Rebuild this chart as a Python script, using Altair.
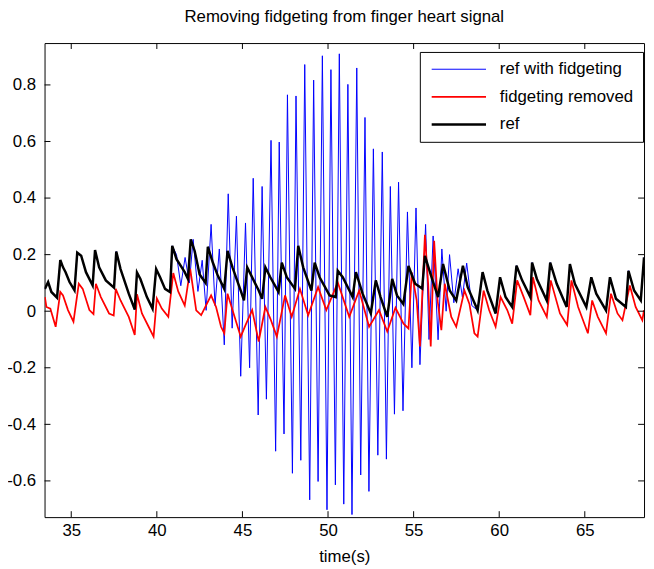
import altair as alt
import pandas as pd

TITLE = "Removing fidgeting from finger heart signal"
X_TITLE = "time(s)"
SERIES = ["ref with fidgeting", "fidgeting removed", "ref"]
COLORS = ["#0000ff", "#ff0000", "#000000"]
WIDTHS = [1, 2.5, 2.5]
X_TICKS = [35, 40, 45, 50, 55, 60, 65]
Y_TICKS = [-0.6, -0.4, -0.2, 0, 0.2, 0.4, 0.6, 0.8]
X_DOMAIN = [33.44, 68.46]
Y_DOMAIN = [-0.728, 0.948]

# black: ref
ref_t = [33.46, 33.65, 33.84, 34.17, 34.36, 34.52, 34.67, 34.90, 35.19, 35.35, 35.58, 35.86,
         36.25, 36.39, 36.63, 37.02, 37.50, 37.63, 37.88, 38.36, 38.71, 38.84, 39.04, 39.42,
         39.75, 39.96, 40.19, 40.48, 40.77, 40.90, 41.15, 41.63, 41.82, 41.98, 42.21, 42.50,
         42.85, 42.98, 43.27, 43.56, 43.94, 44.13, 44.42, 44.90, 45.09, 45.28, 45.47, 45.95,
         46.15, 46.34, 46.63, 47.11, 47.30, 47.59, 48.07, 48.26, 48.55, 49.03, 49.22, 49.51,
         50.09, 50.45, 50.57, 50.86, 51.44, 51.63, 52.02, 52.50, 52.79, 53.07, 53.46, 53.75,
         54.03, 54.40, 54.70, 55.09, 55.50, 55.66, 56.05, 56.43, 56.72, 57.11, 57.49, 57.88,
         58.16, 58.74, 59.03, 59.31, 59.79, 60.05, 60.37, 60.76, 61.01, 61.34, 61.82, 61.92,
         62.20, 62.78, 62.98, 63.36, 63.94, 64.13, 64.42, 65.09, 65.38, 65.67, 66.24, 66.47,
         66.82, 67.40, 67.55, 67.88, 68.27, 68.46]
ref_v = [0.079, 0.103, 0.068, 0.048, 0.181, 0.155, 0.138, 0.103, 0.074, 0.207, 0.196, 0.138,
         0.091, 0.216, 0.155, 0.109, 0.083, 0.211, 0.149, 0.062, 0.006, 0.137, 0.114, 0.050,
         0.009, 0.149, 0.120, 0.079, 0.068, 0.231, 0.184, 0.138, 0.114, 0.254, 0.213, 0.130,
         0.100, 0.228, 0.172, 0.126, 0.079, 0.213, 0.155, 0.073, 0.038, 0.155, 0.132, 0.073,
         0.044, 0.155, 0.120, 0.068, 0.172, 0.120, 0.079, 0.231, 0.155, 0.073, 0.172, 0.120,
         0.056, 0.050, 0.143, 0.120, 0.050, 0.138, 0.062, -0.008, 0.109, 0.050, -0.020, 0.114,
         0.056, 0.025, 0.160, 0.097, 0.080, 0.196, 0.120, 0.050, 0.167, 0.073, 0.038, 0.161,
         0.085, 0.003, 0.138, 0.073, -0.008, 0.120, 0.050, 0.015, 0.161, 0.109, 0.050, 0.172,
         0.114, 0.038, 0.172, 0.097, 0.015, 0.167, 0.097, 0.015, 0.120, 0.062, 0.003, 0.120,
         0.044, 0.015, 0.143, 0.073, 0.038, 0.190]

# red: fidgeting removed
removed_t = [33.46, 33.55, 33.78, 34.09, 34.36, 34.52, 34.81, 35.13, 35.44, 35.67, 36.06, 36.30,
             36.44, 36.73, 37.21, 37.48, 37.60, 37.88, 38.36, 38.71, 38.84, 39.13, 39.52, 39.81,
             40.00, 40.29, 40.67, 40.96, 41.25, 41.63, 41.95, 42.30, 42.59, 43.17, 43.46, 43.75,
             43.94, 44.13, 44.42, 44.90, 45.18, 45.57, 45.95, 46.34, 46.63, 47.01, 47.49, 47.88,
             48.36, 48.84, 49.42, 49.90, 50.57, 51.24, 51.82, 52.40, 52.98, 53.46, 53.94, 54.41,
             54.70, 54.89, 55.18, 55.37, 55.66, 55.85, 56.00, 56.20, 56.40, 56.62, 56.82, 57.20,
             57.49, 57.97, 58.26, 58.55, 58.74, 59.09, 59.41, 59.79, 60.08, 60.47, 60.76, 61.05,
             61.43, 61.82, 61.97, 62.30, 62.78, 63.01, 63.55, 63.97, 64.22, 64.61, 65.18, 65.43,
             65.76, 66.24, 66.53, 66.91, 67.20, 67.63, 67.97, 68.36, 68.46]
removed_v = [0.050, 0.015, 0.009, -0.055, 0.068, 0.056, 0.004, -0.037, 0.097, 0.079, 0.004, -0.010,
             0.097, 0.050, -0.008, -0.015, 0.079, 0.038, -0.020, -0.084, 0.060, -0.008, -0.055, -0.090,
             0.045, 0.009, -0.020, 0.135, 0.070, 0.020, 0.150, 0.003, -0.014, 0.056, 0.015, -0.055,
             -0.078, 0.062, 0.004, -0.090, -0.049, 0.004, -0.107, 0.015, -0.026, -0.090, 0.056, -0.020,
             0.079, -0.014, 0.085, 0.004, 0.102, -0.020, 0.073, -0.055, 0.004, -0.072, 0.012, -0.044,
             -0.061, 0.137, 0.038, -0.125, 0.270, 0.097, -0.125, 0.249, 0.038, -0.067, 0.097, -0.020,
             -0.055, 0.073, 0.026, -0.078, -0.090, 0.073, 0.004, -0.055, 0.050, 0.004, -0.044, 0.109,
             0.050, -0.014, 0.120, 0.038, -0.020, 0.109, -0.008, -0.049, 0.109, 0.015, -0.078, 0.038,
             -0.020, -0.078, 0.062, -0.008, -0.032, 0.091, 0.015, -0.032, 0.004]

# blue: the part of "ref with fidgeting" that departs from ref
fidget_t = [41.15, 41.40, 41.65, 41.90, 42.12, 42.40, 42.65, 42.88, 43.17, 43.40, 43.65, 43.94,
            44.17, 44.40, 44.65, 44.90, 45.18, 45.42, 45.63, 45.92, 46.15, 46.40, 46.67, 46.94,
            47.15, 47.43, 47.63, 47.92, 48.13, 48.41, 48.64, 48.93, 49.16, 49.42, 49.67, 49.94,
            50.17, 50.43, 50.66, 50.92, 51.16, 51.40, 51.68, 51.91, 52.16, 52.39, 52.65, 52.91,
            53.17, 53.41, 53.64, 53.88, 54.12, 54.38, 54.64, 54.90, 55.14, 55.37, 55.70, 55.90,
            56.14, 56.43, 56.65, 56.90, 57.10, 57.35, 57.60, 57.85, 58.10, 58.40]
fidget_v = [0.200, 0.090, 0.190, 0.100, 0.254, 0.070, 0.180, 0.003, 0.307, 0.020, 0.220, -0.119,
            0.415, -0.060, 0.336, -0.230, 0.312, -0.200, 0.470, -0.367, 0.441, -0.311, 0.604, -0.495,
            0.598, -0.434, 0.765, -0.573, 0.761, -0.527, 0.872, -0.667, 0.817, -0.602, 0.903, -0.702,
            0.854, -0.614, 0.910, -0.682, 0.802, -0.719, 0.860, -0.579, 0.685, -0.637, 0.574, -0.509,
            0.563, -0.523, 0.441, -0.364, 0.456, -0.352, 0.351, -0.200, 0.365, -0.189, 0.307, -0.100,
            0.266, -0.101, 0.220, 0.000, 0.200, 0.030, 0.150, 0.050, 0.170, 0.020]

# outside the fidgeting the blue signal is the ref signal itself
pre = [(t, v) for t, v in zip(ref_t, ref_v) if t < 41.0]
post = [(t, v) for t, v in zip(ref_t, ref_v) if t > 58.6]
blue_pairs = pre + list(zip(fidget_t, fidget_v)) + post

blue_df = pd.DataFrame({"t": [p[0] for p in blue_pairs], "v": [p[1] for p in blue_pairs],
                        "series": SERIES[0]})
red_df = pd.DataFrame({"t": removed_t, "v": removed_v, "series": SERIES[1]})
black_df = pd.DataFrame({"t": ref_t, "v": ref_v, "series": SERIES[2]})

FONT = "Liberation Sans"
W, H = 607, 480

xscale = alt.Scale(domain=X_DOMAIN, nice=False, zero=False)
yscale = alt.Scale(domain=Y_DOMAIN, nice=False, zero=False)

xaxis = alt.Axis(values=X_TICKS, title=X_TITLE, ticks=False, domain=False, grid=False,
                 labelFont=FONT, labelFontSize=17, labelColor="black", labelPadding=6,
                 titleFont=FONT, titleFontSize=17, titleFontWeight="normal", titleColor="black",
                 titlePadding=10)
yaxis = alt.Axis(values=Y_TICKS, title=None, ticks=False, domain=False, grid=False,
                 labelFont=FONT, labelFontSize=17, labelColor="black", labelPadding=9,
                 labelExpr="datum.value == 0 ? '0' : (datum.value < 0 ? '-' : '') + format(abs(datum.value), '.1f')")

# legend line sample: a custom horizontal path, scaled by sqrt(symbolSize)/2
legend = alt.Legend(orient="none", legendX=380, legendY=9, title=None,
                    symbolType="M-1,0H9", symbolSize=121, labelFont=FONT, labelFontSize=17,
                    labelColor="black", labelOffset=55, padding=9, rowPadding=10,
                    strokeColor="black", fillColor="white", cornerRadius=0)

color = alt.Color("series:N", scale=alt.Scale(domain=SERIES, range=COLORS), legend=legend)
swidth = alt.StrokeWidth("series:N", scale=alt.Scale(domain=SERIES, range=WIDTHS), legend=legend)


def line(df):
    return alt.Chart(df).mark_line(clip=True).encode(
        x=alt.X("t:Q", scale=xscale, axis=xaxis),
        y=alt.Y("v:Q", scale=yscale, axis=yaxis),
        color=color,
        strokeWidth=swidth,
        order="t:Q",
    )


xt = pd.DataFrame({"t": X_TICKS})
yt = pd.DataFrame({"v": Y_TICKS})
TL = 6
bottom_ticks = alt.Chart(xt).mark_rule(color="black").encode(
    x=alt.X("t:Q", scale=xscale, axis=xaxis), y=alt.value(H), y2=alt.value(H - TL))
top_ticks = alt.Chart(xt).mark_rule(color="black").encode(
    x=alt.X("t:Q", scale=xscale, axis=xaxis), y=alt.value(0), y2=alt.value(TL))
left_ticks = alt.Chart(yt).mark_rule(color="black").encode(
    y=alt.Y("v:Q", scale=yscale, axis=yaxis), x=alt.value(0), x2=alt.value(TL))
right_ticks = alt.Chart(yt).mark_rule(color="black").encode(
    y=alt.Y("v:Q", scale=yscale, axis=yaxis), x=alt.value(W), x2=alt.value(W - TL))

chart = alt.layer(
    line(blue_df), line(red_df), line(black_df),
    bottom_ticks, top_ticks, left_ticks, right_ticks,
).properties(
    width=W, height=H,
    title=alt.TitleParams(TITLE, font=FONT, fontSize=17, fontWeight="normal", color="black",
                          anchor="middle", offset=17),
    padding={"left": 37, "top": 32, "right": 2, "bottom": 47},
    autosize=alt.AutoSizeParams(type="none"),
    background="white",
).configure_view(stroke="black", strokeWidth=1)

chart.save("out.html", embed_options={"renderer": "svg", "actions": False})
